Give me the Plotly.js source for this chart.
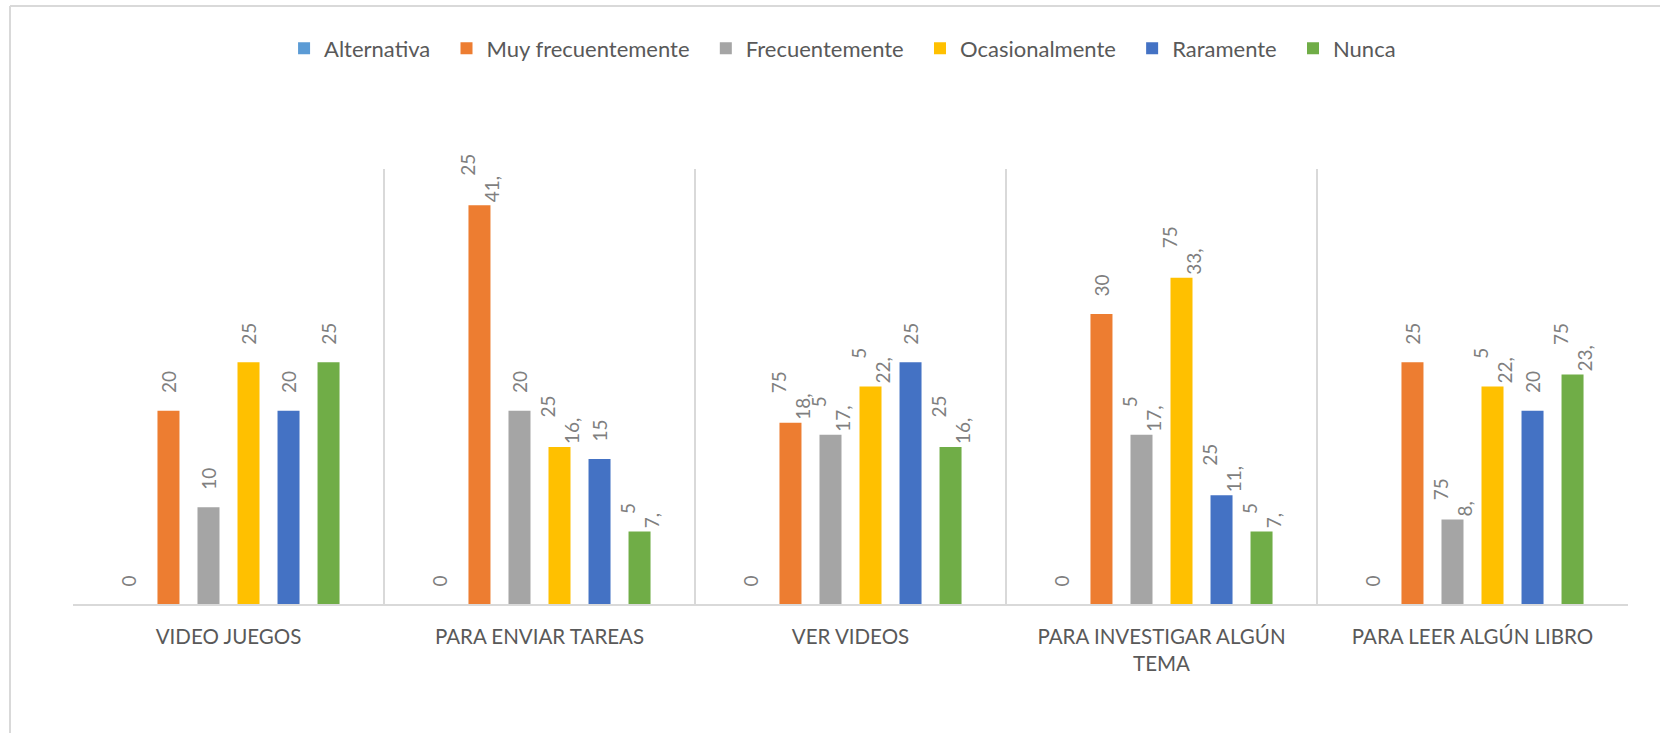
<!DOCTYPE html>
<html>
<head>
<meta charset="utf-8">
<script src="https://cdn.plot.ly/plotly-3.0.1.min.js"></script>
<style>
  html, body { margin: 0; padding: 0; background: #ffffff; overflow: hidden; }
  #chart { position: absolute; left: 0; top: 0; width: 1660px; height: 733px; }
</style>
</head>
<body>
<div id="chart"></div>
<script>
// ---- data ----
const categories = ["VIDEO JUEGOS", "PARA ENVIAR TAREAS", "VER VIDEOS", "PARA INVESTIGAR ALGÚN<br>TEMA", "PARA LEER ALGÚN LIBRO"];
const seriesNames = ["Alternativa", "Muy frecuentemente", "Frecuentemente", "Ocasionalmente", "Raramente", "Nunca"];
const alternativa = [0, 0, 0, 0, 0];
const muyFrecuentemente = [20, 41.25, 18.75, 30, 25];
const frecuentemente = [10, 20, 17.5, 17.5, 8.75];
const ocasionalmente = [25, 16.25, 22.5, 33.75, 22.5];
const raramente = [20, 15, 25, 11.25, 20];
const nunca = [25, 7.5, 16.25, 7.5, 23.75];
const seriesColors = ["#5B9BD5", "#ED7D31", "#A5A5A5", "#FFC000", "#4472C4", "#70AD47"];

const seriesValues = [alternativa, muyFrecuentemente, frecuentemente, ocasionalmente, raramente, nunca];

// ---- label formatting (Excel-style "41,25" split over two rotated lines) ----
const LABEL_SIZE = 19;
const LABEL_FONT = "Lato";
const ctx = document.createElement("canvas").getContext("2d");
ctx.font = LABEL_SIZE + "px " + LABEL_FONT;
const NB = "\u00a0";
const nbW = ctx.measureText(NB).width || LABEL_SIZE * 0.19;
function pad(s) {
  const n = Math.max(1, Math.round(ctx.measureText(s).width / nbW));
  return NB.repeat(n);
}
function fmt(v) {
  const s = String(v);
  if (s.indexOf(".") < 0) return NB.repeat(3) + s;
  const parts = s.split(".");
  const first = parts[0] + ",";
  const second = parts[1];
  return pad(first) + second + "<br>" + first + pad(second);
}

const traces = seriesNames.map((name, i) => ({
  type: "bar",
  name: i < seriesNames.length - 1 ? name + NB + NB : name,
  x: categories,
  y: seriesValues[i],
  marker: { color: seriesColors[i] },
  text: seriesValues[i].map(fmt),
  textposition: "outside",
  textangle: -90,
  constraintext: "none",
  cliponaxis: false,
  textfont: { family: LABEL_FONT, size: LABEL_SIZE, color: "#7f7f7f" },
  hoverinfo: "skip"
}));

// outer chart-area frame (left and top edges visible in the picture)
const frameColor = "#d9d9d9";
const layout = {
  width: 1660,
  height: 733,
  paper_bgcolor: "#ffffff",
  plot_bgcolor: "rgba(0,0,0,0)",
  margin: { l: 73, r: 32, t: 169, b: 129, pad: 0 },
  barmode: "group",
  bargap: 0.228,
  bargroupgap: 0.45,
  showlegend: true,
  legend: {
    orientation: "h",
    x: 0.4949, xanchor: "center",
    yref: "container", y: 0.934, yanchor: "middle",
    font: { family: "Lato", size: 22, color: "#595959" },
    bgcolor: "rgba(0,0,0,0)"
  },
  xaxis: {
    type: "category",
    tickson: "boundaries",
    showgrid: true,
    gridcolor: "#d9d9d9",
    gridwidth: 1.5,
    showline: true,
    linecolor: "#d9d9d9",
    linewidth: 1.5,
    ticks: "",
    ticklabelstandoff: 14,
    tickfont: { family: "Lato", size: 20.5, color: "#595959" },
    automargin: false,
    fixedrange: true
  },
  yaxis: {
    range: [0, 45],
    visible: false,
    showgrid: false,
    zeroline: false,
    fixedrange: true
  },
  shapes: [
    { type: "line", xref: "paper", yref: "paper", x0: -0.0405, x1: -0.0405, y0: -0.4, y1: 1.3747,
      line: { color: frameColor, width: 2 }, layer: "below" },
    { type: "line", xref: "paper", yref: "paper", x0: -0.0405, x1: 1.05, y0: 1.3747, y1: 1.3747,
      line: { color: frameColor, width: 2 }, layer: "below" }
  ],
  font: { family: "Lato", color: "#595959" }
};

Plotly.newPlot("chart", traces, layout, { displayModeBar: false, staticPlot: true });
</script>
</body>
</html>
